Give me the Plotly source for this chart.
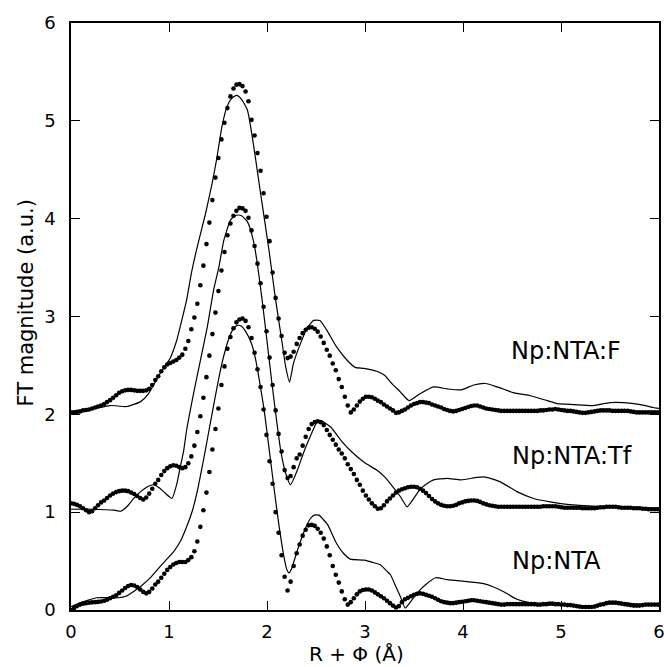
import plotly.graph_objects as go

# R + phi sampling grid of the experimental data (Angstrom)
R_DATA = [0.000, 0.031, 0.061, 0.092, 0.123, 0.154, 0.184, 0.215, 0.246, 0.276,
          0.307, 0.338, 0.368, 0.399, 0.430, 0.461, 0.491, 0.522, 0.553, 0.583,
          0.614, 0.645, 0.675, 0.706, 0.737, 0.768, 0.798, 0.829, 0.860, 0.890,
          0.921, 0.952, 0.982, 1.013, 1.044, 1.075, 1.105, 1.136, 1.167, 1.197,
          1.228, 1.259, 1.289, 1.320, 1.351, 1.382, 1.412, 1.443, 1.474, 1.504,
          1.535, 1.566, 1.596, 1.627, 1.658, 1.688, 1.719, 1.750, 1.781, 1.811,
          1.842, 1.873, 1.903, 1.934, 1.965, 1.995, 2.026, 2.057, 2.088, 2.118,
          2.149, 2.180, 2.210, 2.241, 2.272, 2.303, 2.333, 2.364, 2.395, 2.425,
          2.456, 2.487, 2.517, 2.548, 2.579, 2.610, 2.640, 2.671, 2.702, 2.732,
          2.763, 2.794, 2.824, 2.855, 2.886, 2.917, 2.947, 2.978, 3.009, 3.039,
          3.070, 3.101, 3.131, 3.162, 3.193, 3.224, 3.254, 3.285, 3.316, 3.346,
          3.377, 3.408, 3.438, 3.469, 3.500, 3.531, 3.561, 3.592, 3.623, 3.653,
          3.684, 3.715, 3.745, 3.776, 3.807, 3.838, 3.868, 3.899, 3.930, 3.960,
          3.991, 4.022, 4.052, 4.083, 4.114, 4.145, 4.175, 4.206, 4.237, 4.267,
          4.298, 4.329, 4.359, 4.390, 4.421, 4.452, 4.482, 4.513, 4.544, 4.574,
          4.605, 4.636, 4.666, 4.697, 4.728, 4.759, 4.789, 4.820, 4.851, 4.881,
          4.912, 4.943, 4.973, 5.004, 5.035, 5.066, 5.096, 5.127, 5.158, 5.188,
          5.219, 5.250, 5.280, 5.311, 5.342, 5.373, 5.403, 5.434, 5.465, 5.495,
          5.526, 5.557, 5.587, 5.618, 5.649, 5.680, 5.710, 5.741, 5.772, 5.802,
          5.833, 5.864, 5.894, 5.925, 5.956, 5.987]

# Np:NTA experimental (offset 0)
NTA_DATA = [0.00, 0.02, 0.04, 0.055, 0.065, 0.07, 0.075, 0.078, 0.08, 0.083,
            0.087, 0.095, 0.105, 0.12, 0.135, 0.15, 0.175, 0.20, 0.225, 0.245,
            0.255, 0.25, 0.235, 0.21, 0.185, 0.17, 0.185, 0.22, 0.26, 0.29,
            0.33, 0.37, 0.41, 0.44, 0.465, 0.48, 0.49, 0.49, 0.49, 0.51,
            0.54, 0.60, 0.70, 0.85, 1.02, 1.20, 1.41, 1.64, 1.85, 2.06,
            2.30, 2.49, 2.67, 2.79, 2.88, 2.94, 2.97, 2.98, 2.955, 2.89,
            2.78, 2.63, 2.46, 2.28, 2.05, 1.79, 1.52, 1.29, 1.00, 0.79,
            0.56, 0.34, 0.20, 0.29, 0.45, 0.58, 0.67, 0.76, 0.82, 0.865,
            0.87, 0.86, 0.83, 0.79, 0.73, 0.65, 0.56, 0.45, 0.36, 0.28,
            0.19, 0.11, 0.055, 0.08, 0.12, 0.16, 0.19, 0.205, 0.21, 0.21,
            0.20, 0.18, 0.16, 0.14, 0.12, 0.095, 0.07, 0.045, 0.025, 0.04,
            0.08, 0.11, 0.125, 0.14, 0.155, 0.165, 0.17, 0.165, 0.155, 0.145,
            0.135, 0.12, 0.105, 0.09, 0.08, 0.075, 0.07, 0.07, 0.075, 0.08,
            0.085, 0.09, 0.095, 0.10, 0.10, 0.095, 0.09, 0.085, 0.08, 0.075,
            0.07, 0.065, 0.06, 0.055, 0.055, 0.06, 0.06, 0.06, 0.06, 0.06,
            0.06, 0.06, 0.06, 0.06, 0.06, 0.055, 0.055, 0.06, 0.06, 0.065,
            0.065, 0.06, 0.06, 0.055, 0.055, 0.05, 0.05, 0.045, 0.04, 0.035,
            0.03, 0.03, 0.03, 0.03, 0.035, 0.045, 0.055, 0.06, 0.07, 0.075,
            0.075, 0.075, 0.07, 0.065, 0.06, 0.055, 0.05, 0.045, 0.045, 0.045,
            0.05, 0.055, 0.055, 0.055, 0.055, 0.055]

# Np:NTA:Tf experimental (offset 1)
TF_DATA = [1.09, 1.085, 1.075, 1.06, 1.04, 1.02, 1.00, 1.01, 1.04, 1.07,
           1.10, 1.12, 1.145, 1.17, 1.19, 1.205, 1.215, 1.22, 1.22, 1.215,
           1.20, 1.185, 1.165, 1.145, 1.13, 1.15, 1.19, 1.24, 1.29, 1.33,
           1.38, 1.42, 1.45, 1.47, 1.48, 1.475, 1.46, 1.45, 1.46, 1.50,
           1.57, 1.68, 1.82, 1.98, 2.17, 2.38, 2.60, 2.82, 3.04, 3.26,
           3.47, 3.66, 3.83, 3.95, 4.03, 4.08, 4.11, 4.105, 4.08, 4.01,
           3.88, 3.72, 3.54, 3.34, 3.10, 2.85, 2.58, 2.30, 2.04, 1.80,
           1.62, 1.43, 1.35, 1.37, 1.46, 1.55, 1.59, 1.68, 1.77, 1.85,
           1.90, 1.92, 1.93, 1.92, 1.89, 1.84, 1.79, 1.74, 1.69, 1.64,
           1.60, 1.55, 1.49, 1.44, 1.39, 1.33, 1.28, 1.22, 1.17, 1.13,
           1.09, 1.06, 1.035, 1.04, 1.07, 1.11, 1.14, 1.17, 1.20, 1.22,
           1.235, 1.245, 1.255, 1.26, 1.26, 1.255, 1.24, 1.22, 1.195, 1.165,
           1.135, 1.11, 1.09, 1.075, 1.065, 1.06, 1.06, 1.065, 1.075, 1.09,
           1.10, 1.11, 1.115, 1.12, 1.12, 1.115, 1.105, 1.09, 1.08, 1.07,
           1.065, 1.06, 1.055, 1.055, 1.055, 1.055, 1.055, 1.055, 1.055, 1.055,
           1.055, 1.055, 1.055, 1.055, 1.055, 1.055, 1.055, 1.06, 1.06, 1.06,
           1.06, 1.06, 1.055, 1.05, 1.045, 1.045, 1.045, 1.045, 1.045, 1.045,
           1.04, 1.04, 1.04, 1.04, 1.04, 1.045, 1.05, 1.05, 1.055, 1.055,
           1.055, 1.055, 1.05, 1.045, 1.045, 1.045, 1.045, 1.04, 1.04, 1.04,
           1.035, 1.035, 1.03, 1.03, 1.03, 1.03]

# Np:NTA:F experimental (offset 2)
F_DATA = [2.02, 2.02, 2.025, 2.03, 2.04, 2.045, 2.05, 2.06, 2.07, 2.08,
          2.09, 2.105, 2.125, 2.145, 2.17, 2.195, 2.22, 2.235, 2.245, 2.25,
          2.25, 2.245, 2.24, 2.24, 2.24, 2.245, 2.26, 2.30, 2.35, 2.39,
          2.44, 2.48, 2.51, 2.525, 2.54, 2.555, 2.58, 2.61, 2.67, 2.75,
          2.87, 2.99, 3.13, 3.32, 3.52, 3.74, 3.96, 4.19, 4.42, 4.62,
          4.81, 4.98, 5.13, 5.25, 5.33, 5.37, 5.375, 5.355, 5.30, 5.20,
          5.01, 4.85, 4.67, 4.49, 4.26, 4.02, 3.77, 3.45, 3.19, 2.98,
          2.80, 2.63, 2.575, 2.59, 2.64, 2.72, 2.78, 2.83, 2.865, 2.885,
          2.89, 2.875, 2.845, 2.795, 2.73, 2.66, 2.60, 2.52, 2.45, 2.36,
          2.28, 2.18, 2.09, 2.02, 2.05, 2.09, 2.13, 2.16, 2.18, 2.18,
          2.175, 2.16, 2.14, 2.125, 2.10, 2.08, 2.06, 2.04, 2.015, 2.02,
          2.035, 2.05, 2.07, 2.09, 2.105, 2.115, 2.125, 2.125, 2.12, 2.115,
          2.10, 2.09, 2.08, 2.07, 2.055, 2.045, 2.035, 2.03, 2.035, 2.045,
          2.055, 2.065, 2.075, 2.085, 2.09, 2.09, 2.08, 2.07, 2.06, 2.055,
          2.05, 2.045, 2.04, 2.035, 2.035, 2.035, 2.035, 2.035, 2.035, 2.035,
          2.035, 2.035, 2.035, 2.035, 2.035, 2.035, 2.04, 2.04, 2.045, 2.05,
          2.05, 2.055, 2.05, 2.045, 2.04, 2.035, 2.035, 2.03, 2.025, 2.02,
          2.015, 2.015, 2.02, 2.025, 2.03, 2.035, 2.04, 2.04, 2.04, 2.04,
          2.035, 2.035, 2.035, 2.035, 2.035, 2.035, 2.03, 2.025, 2.02, 2.02,
          2.02, 2.02, 2.02, 2.02, 2.02, 2.02]

# Fits (solid lines)
R_FIT_NTA = [0, 0.13, 0.26, 0.40, 0.48, 0.56, 0.64, 0.71, 0.80, 0.88, 0.96, 1.05,
             1.12, 1.18, 1.24, 1.29, 1.33, 1.37, 1.42, 1.47, 1.52, 1.57, 1.62, 1.66,
             1.70, 1.74, 1.78, 1.84, 1.88, 1.92, 1.97, 2.02, 2.07, 2.12, 2.17, 2.20,
             2.225, 2.25, 2.31, 2.39, 2.44, 2.48, 2.53, 2.57, 2.62, 2.71, 2.78, 2.85,
             2.99, 3.10, 3.16, 3.22, 3.26, 3.31, 3.36, 3.41, 3.47, 3.53, 3.62, 3.72,
             3.84, 4.04, 4.21, 4.30, 4.41, 4.55, 4.68, 4.85, 5.00, 5.30, 5.55, 5.80, 6.0]
FIT_NTA = [0.035, 0.085, 0.125, 0.125, 0.125, 0.14, 0.19, 0.24, 0.32, 0.41, 0.50, 0.60,
           0.71, 0.85, 1.02, 1.22, 1.42, 1.63, 1.90, 2.17, 2.43, 2.64, 2.80, 2.88,
           2.91, 2.90, 2.85, 2.73, 2.58, 2.36, 2.05, 1.66, 1.26, 0.88, 0.56, 0.42,
           0.38, 0.42, 0.61, 0.83, 0.93, 0.97, 0.97, 0.93, 0.87, 0.68, 0.58, 0.52,
           0.51, 0.48, 0.46, 0.40, 0.36, 0.25, 0.14, 0.02, 0.09, 0.17, 0.26, 0.33,
           0.31, 0.29, 0.27, 0.24, 0.19, 0.11, 0.075, 0.06, 0.055, 0.04, 0.08, 0.06, 0.05]

R_FIT_TF = [0, 0.22, 0.44, 0.51, 0.57, 0.64, 0.71, 0.78, 0.84, 0.90, 0.945, 1.00,
            1.03, 1.08, 1.115, 1.15, 1.18, 1.25, 1.32, 1.39, 1.455, 1.51, 1.56, 1.63,
            1.69, 1.74, 1.80, 1.86, 1.90, 1.95, 2.00, 2.05, 2.10, 2.14, 2.19, 2.24,
            2.31, 2.37, 2.44, 2.51, 2.56, 2.65, 2.75, 2.85, 2.99, 3.12, 3.20, 3.26,
            3.36, 3.43, 3.49, 3.56, 3.63, 3.70, 3.84, 3.98, 4.14, 4.21, 4.28, 4.38,
            4.55, 4.72, 4.89, 5.06, 5.37, 5.60, 5.80, 6.0]
FIT_TF = [1.03, 1.03, 1.02, 1.01, 1.055, 1.14, 1.21, 1.26, 1.28, 1.25, 1.21, 1.16,
          1.14, 1.29, 1.46, 1.63, 1.84, 2.21, 2.55, 2.89, 3.27, 3.51, 3.78, 3.99,
          4.035, 4.03, 3.97, 3.78, 3.55, 3.17, 2.75, 2.32, 1.92, 1.63, 1.40, 1.28,
          1.43, 1.60, 1.77, 1.92, 1.93, 1.87, 1.74, 1.63, 1.51, 1.43, 1.36, 1.29,
          1.16, 1.055, 1.13, 1.23, 1.29, 1.33, 1.345, 1.33, 1.355, 1.36, 1.345, 1.31,
          1.21, 1.14, 1.105, 1.08, 1.06, 1.055, 1.05, 1.04]

R_FIT_F = [0, 0.24, 0.40, 0.57, 0.71, 0.79, 0.91, 1.01, 1.08, 1.13, 1.18, 1.23,
           1.29, 1.37, 1.44, 1.49, 1.54, 1.59, 1.64, 1.69, 1.74, 1.80, 1.86, 1.93,
           2.02, 2.085, 2.15, 2.19, 2.23, 2.27, 2.34, 2.41, 2.475, 2.54, 2.61, 2.71,
           2.82, 2.90, 2.99, 3.12, 3.20, 3.26, 3.36, 3.45, 3.56, 3.70, 3.84, 3.98,
           4.11, 4.23, 4.35, 4.52, 4.69, 4.86, 4.96, 5.13, 5.33, 5.50, 5.64, 5.81,
           5.94, 6.0]
FIT_F = [2.02, 2.06, 2.09, 2.08, 2.13, 2.21, 2.42, 2.57, 2.76, 2.96, 3.17, 3.45,
         3.72, 4.04, 4.36, 4.63, 4.94, 5.14, 5.23, 5.26, 5.22, 5.11, 4.77, 4.29,
         3.68, 3.19, 2.76, 2.49, 2.33, 2.52, 2.72, 2.88, 2.96, 2.96, 2.86, 2.69,
         2.55, 2.48, 2.47, 2.44, 2.40, 2.33, 2.23, 2.14, 2.21, 2.28, 2.26, 2.25,
         2.30, 2.315, 2.28, 2.22, 2.19, 2.14, 2.11, 2.10, 2.09, 2.12, 2.12, 2.10,
         2.07, 2.06]

LABELS = ["Np:NTA:F", "Np:NTA:Tf", "Np:NTA"]
LABEL_X = [4.47, 4.48, 4.48]
LABEL_Y = [2.65, 1.575, 0.50]

X_TICKS = [0, 1, 2, 3, 4, 5, 6]
Y_TICKS = [0, 1, 2, 3, 4, 5, 6]

FONT = "DejaVu Sans"

fig = go.Figure()
for rf, yf in [(R_FIT_F, FIT_F), (R_FIT_TF, FIT_TF), (R_FIT_NTA, FIT_NTA)]:
    fig.add_trace(go.Scatter(x=rf, y=yf, mode="lines",
                             line=dict(color="black", width=1.2, shape="spline",
                                       smoothing=0.5),
                             showlegend=False, hoverinfo="skip"))
for yd in [F_DATA, TF_DATA, NTA_DATA]:
    fig.add_trace(go.Scatter(x=R_DATA, y=yd, mode="markers",
                             marker=dict(color="black", size=4.6, line=dict(width=0)),
                             showlegend=False))

for txt, lx, ly in zip(LABELS, LABEL_X, LABEL_Y):
    fig.add_annotation(x=lx, y=ly, text=txt, showarrow=False,
                       xanchor="left", yanchor="middle",
                       font=dict(family=FONT, size=24, color="black"))

# axis titles
fig.add_annotation(xref="paper", yref="paper", x=0.486, y=0, yanchor="middle",
                   yshift=-44, text="R + \u03a6 (\u00c5)", showarrow=False,
                   font=dict(family=FONT, size=20, color="black"))
fig.add_annotation(xref="paper", yref="paper", x=0, y=0.5, xanchor="center",
                   xshift=-46, yshift=13, textangle=-90,
                   text="FT magnitude (a.u.)", showarrow=False,
                   font=dict(family=FONT, size=21, color="black"))

axis_common = dict(showline=True, linecolor="black", linewidth=1.6, mirror="ticks",
                   ticks="inside", ticklen=9, tickwidth=1.2, tickcolor="black",
                   showgrid=False, zeroline=False, ticklabeloverflow="allow",
                   tickfont=dict(family=FONT, size=18, color="black"))
fig.update_xaxes(range=[0, 6], tickvals=X_TICKS, ticklabelstandoff=5, **axis_common)
fig.update_yaxes(range=[0, 6], tickvals=Y_TICKS, ticklabelstandoff=10, **axis_common)

fig.update_layout(width=664, height=667,
                  margin=dict(l=71, r=5, t=23, b=57, autoexpand=False),
                  plot_bgcolor="white", paper_bgcolor="white",
                  font=dict(family=FONT, color="black"))

fig.write_html("out.html")
